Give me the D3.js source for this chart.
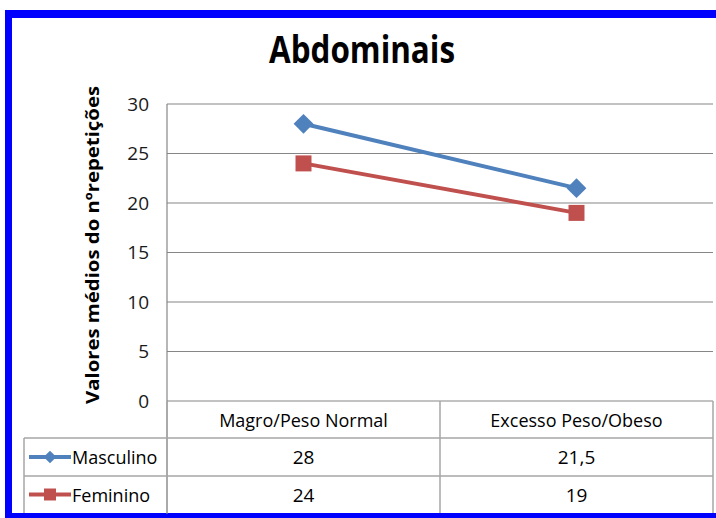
<!DOCTYPE html>
<html><head><meta charset="utf-8">
<script src="https://cdn.jsdelivr.net/npm/d3@7"></script>
<style>
html,body{margin:0;padding:0;background:#fff;}
svg text{font-family:"Open Sans",sans-serif;}
</style></head>
<body>
<svg id="c" width="716" height="518"></svg>
<script>
const title = "Abdominais";
const yLabel = "Valores médios do nºrepetições";
const categories = ["Magro/Peso Normal", "Excesso Peso/Obeso"];
const seriesNames = ["Masculino", "Feminino"];
const masculino = [28, 21.5];
const feminino = [24, 19];
const valueLabels = [["28", "21,5"], ["24", "19"]];
const yTicks = [0, 5, 10, 15, 20, 25, 30];
const colors = ["#4F81BD", "#C0504D"];

(function(){
const svg = d3.select("#c");
// frame
svg.append("rect").attr("x",0).attr("y",0).attr("width",716).attr("height",518).attr("fill","#fff");
svg.append("rect").attr("x",5).attr("y",10).attr("width",711).attr("height",8).attr("fill","#0000FF");
svg.append("rect").attr("x",5).attr("y",10).attr("width",7).attr("height",508).attr("fill","#0000FF");
svg.append("rect").attr("x",5).attr("y",513).attr("width",711).attr("height",5).attr("fill","#0000FF");

const pL = 167, pR = 713, pT = 104, pB = 401;
const x = d3.scaleBand().domain(categories).range([pL, pR]);
const y = d3.scaleLinear().domain([0, 30]).range([pB, pT]);

// title
svg.append("text").attr("x",362).attr("y",63).attr("text-anchor","middle")
  .attr("font-size",38).attr("font-weight","bold").attr("fill","#000")
  .attr("textLength",186).attr("lengthAdjust","spacingAndGlyphs").text(title);

// y label
svg.append("text").attr("transform",`translate(99,245) rotate(-90)`)
  .attr("text-anchor","middle").attr("font-size",18).attr("font-weight","bold").attr("fill","#000")
  .attr("textLength",318).attr("lengthAdjust","spacingAndGlyphs").text(yLabel);

// gridlines
svg.append("g").selectAll("line").data(yTicks).join("line")
  .attr("x1",pL).attr("x2",pR).attr("y1",d=>y(d)).attr("y2",d=>y(d))
  .attr("stroke","#868686").attr("stroke-width",1.2);

// y axis
const yAxis = svg.append("g").attr("transform",`translate(${pL},0)`)
  .call(d3.axisLeft(y).tickValues(yTicks).tickSize(0).tickPadding(18));
yAxis.select(".domain").remove();
yAxis.selectAll("text").attr("font-size",19).attr("fill","#1a1a1a")
  .style("font-family",'"Open Sans",sans-serif');
svg.append("line").attr("x1",pL).attr("x2",pL).attr("y1",pT).attr("y2",514)
  .attr("stroke","#868686").attr("stroke-width",1.2);

// table
const tbl = "#A6A6A6";
const rowY = [401, 438, 476, 513];
const colX = [pL, x(categories[1]), pR];
colX.forEach(cx => svg.append("line").attr("x1",cx).attr("x2",cx).attr("y1",rowY[0]).attr("y2",rowY[3]).attr("stroke",tbl).attr("stroke-width",1.5));
svg.append("line").attr("x1",24).attr("x2",24).attr("y1",rowY[1]).attr("y2",rowY[3]).attr("stroke",tbl).attr("stroke-width",1.5);
[rowY[1], rowY[2]].forEach(ry => svg.append("line").attr("x1",24).attr("x2",pR).attr("y1",ry).attr("y2",ry).attr("stroke",tbl).attr("stroke-width",1.5));

svg.append("g").selectAll("text").data(categories).join("text")
  .attr("x",d=>x(d)+x.bandwidth()/2).attr("y",(rowY[0]+rowY[1])/2+7).attr("text-anchor","middle")
  .attr("font-size",18).attr("fill","#000").text(d=>d);

const diamond = s => d3.symbol(d3.symbolSquare, s*s)();
const series = [masculino, feminino];
series.forEach((vals, i) => {
  const cy = (rowY[i+1]+rowY[i+2])/2 + 7;
  svg.append("g").selectAll("text").data(categories).join("text")
    .attr("x",d=>x(d)+x.bandwidth()/2).attr("y",cy).attr("text-anchor","middle")
    .attr("font-size",19).attr("fill","#000").text((d,j)=>valueLabels[i][j]);
  const ly = (rowY[i+1]+rowY[i+2])/2;
  svg.append("line").attr("x1",29).attr("x2",71).attr("y1",ly).attr("y2",ly).attr("stroke",colors[i]).attr("stroke-width",4);
  svg.append("path").attr("transform",`translate(50,${ly})` + (i===0 ? " rotate(45)" : ""))
    .attr("d", i===0 ? diamond(9) : diamond(12))
    .attr("fill",colors[i]);
  svg.append("text").attr("x",72).attr("y",cy).attr("font-size",18).attr("fill","#000").text(seriesNames[i]);
});

// lines
const line = d3.line().x((d,j)=>x(categories[j])+x.bandwidth()/2).y(d=>y(d));
series.forEach((vals,i) => {
  svg.append("path").datum(vals).attr("d",line).attr("fill","none").attr("stroke",colors[i]).attr("stroke-width",4);
  svg.append("g").selectAll("path").data(vals).join("path")
    .attr("transform",(d,j)=>`translate(${x(categories[j])+x.bandwidth()/2},${y(d)})` + (i===0 ? " rotate(45)" : ""))
    .attr("d", i===0 ? diamond(14) : diamond(16))
    .attr("fill",colors[i]);
});
})();
</script>
</body></html>
